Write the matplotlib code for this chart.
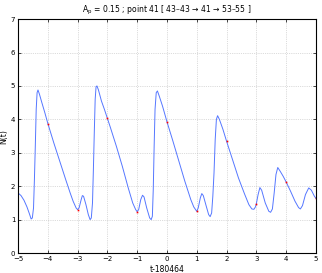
import numpy as np
import matplotlib.pyplot as plt

# curve
t = [-5.0, -4.9, -4.8, -4.7, -4.62, -4.56, -4.52, -4.48, -4.45, -4.42, -4.39, -4.36, -4.33,
     -4.28, -4.2, -4.1, -4.0, -3.8, -3.6, -3.4, -3.25, -3.15, -3.05, -3.0, -2.95, -2.88,
     -2.84, -2.8, -2.72, -2.64, -2.58, -2.54, -2.5, -2.47, -2.44, -2.41, -2.38, -2.35,
     -2.3, -2.2, -2.1, -2.0, -1.9, -1.7, -1.5, -1.3, -1.15, -1.05, -1.0, -0.95, -0.88,
     -0.82, -0.77, -0.68, -0.58, -0.53, -0.49, -0.46, -0.43, -0.4, -0.36, -0.32, -0.26,
     -0.15, 0.0, 0.2, 0.4, 0.6, 0.8, 0.9, 1.0, 1.05, 1.12, 1.17, 1.22, 1.32, 1.4, 1.45,
     1.5, 1.54, 1.58, 1.62, 1.66, 1.7, 1.76, 1.88, 2.0, 2.2, 2.4, 2.6, 2.75, 2.85, 2.92,
     2.97, 3.0, 3.06, 3.12, 3.18, 3.3, 3.42, 3.48, 3.54, 3.6, 3.66, 3.72, 3.8, 3.9, 4.0,
     4.15, 4.3, 4.42, 4.48, 4.55, 4.65, 4.76, 4.85, 4.95, 5.0]
N = [1.80, 1.72, 1.58, 1.38, 1.18, 1.02, 1.05, 1.35, 2.2, 3.2, 4.3, 4.8, 4.88,
     4.75, 4.5, 4.2, 3.88, 3.3, 2.75, 2.2, 1.8, 1.55, 1.35, 1.30, 1.35, 1.6,
     1.72, 1.7, 1.45, 1.15, 1.0, 1.05, 1.5, 2.5, 3.6, 4.6, 4.98, 5.0,
     4.88, 4.55, 4.3, 4.03, 3.76, 3.2, 2.6, 1.95, 1.5, 1.3, 1.24, 1.3, 1.6,
     1.73, 1.68, 1.35, 1.05, 1.0, 1.1, 1.9, 3.2, 4.3, 4.8, 4.85, 4.7,
     4.4, 3.93, 3.35, 2.75, 2.15, 1.6, 1.38, 1.25, 1.35, 1.65, 1.78, 1.72, 1.4, 1.15, 1.09,
     1.2, 1.7, 2.4, 3.4, 4.0, 4.11, 4.0, 3.7, 3.35, 2.8, 2.25, 1.78, 1.45, 1.32, 1.31,
     1.38, 1.47, 1.75, 1.96, 1.88, 1.5, 1.25, 1.22, 1.32, 1.8, 2.35, 2.56, 2.45, 2.3, 2.13,
     1.85, 1.55, 1.36, 1.32, 1.42, 1.75, 1.95, 1.88, 1.7, 1.64]

# red marks at whole t
pt_t = [-4, -3, -2, -1, 0, 1, 2, 3, 4, 5]
pt_n = [3.87, 1.30, 4.03, 1.24, 3.93, 1.25, 3.35, 1.47, 2.13, 1.64]

fig = plt.figure(figsize=(3.22, 2.73), dpi=100)
ax = fig.add_axes([0.056, 0.073, 0.925, 0.857])

ax.plot(t, N, color='#5577ff', lw=0.7)
ax.plot(pt_t, pt_n, ls='none', marker='s', ms=1.2, mec='none', mfc='red')

ax.set_xlim(-5, 5)
ax.set_ylim(0, 7)
ax.set_xticks(range(-5, 6))
ax.set_yticks(range(0, 8))
ax.grid(True, ls=':', color='#bbbbbb', lw=0.5)
ax.tick_params(direction='in', labelsize=5, length=2, width=0.5, pad=2,
               top=True, right=True)
for s in ax.spines.values():
    s.set_linewidth(0.8)

ax.set_title(r'A$_\mathregular{p}$ = 0.15 ; point 41 [ 43–43 → 41 → 53–55 ]',
             fontsize=5.5, pad=5)
ax.set_xlabel('t-180464', fontsize=5.5, labelpad=2)
ax.set_ylabel('N(t)', fontsize=5.5, labelpad=2)

fig.savefig('out.png', dpi=100)
